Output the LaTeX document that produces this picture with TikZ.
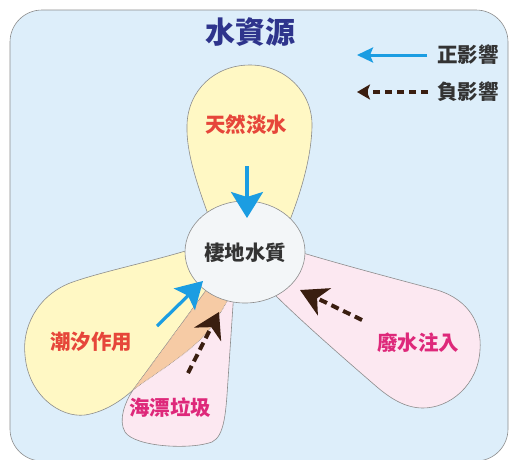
\documentclass[tikz,border=0pt]{standalone}
\usepackage{fontspec}
\newfontfamily\cjk{Noto Sans CJK TC}
\usetikzlibrary{arrows.meta,shapes.geometric}
\definecolor{bgblue}{RGB}{221,238,250}
\definecolor{petalyellow}{RGB}{255,248,196}
\definecolor{petalpink}{RGB}{252,232,241}
\definecolor{peach}{RGB}{246,203,165}
\definecolor{hubfill}{RGB}{243,246,248}
\definecolor{outline}{RGB}{140,140,140}
\definecolor{posblue}{RGB}{27,157,226}
\definecolor{negbrown}{RGB}{58,30,16}
\definecolor{titleblue}{RGB}{46,52,140}
\definecolor{labred}{RGB}{230,70,58}
\definecolor{labmag}{RGB}{222,40,122}
\definecolor{labgray}{RGB}{51,51,51}
\tikzset{
  petal/.style={draw=outline, line width=0.6pt},
  lab/.style={font=\cjk\bfseries\fontsize{20.5}{22}\selectfont, inner sep=0pt},
  posarrow/.style={draw=posblue, line width=3.2pt, -{Stealth[length=26pt,width=32pt,inset=5pt]}},
  negarrow/.style={draw=negbrown, line width=4pt, dash pattern=on 8pt off 5pt, -{Stealth[length=27pt,width=30pt,inset=8pt]}},
}
\def\toppetal{(212,225) .. controls (197,185) and (186,152) .. (187,125) .. controls (188,90) and (215,65) .. (250,65) .. controls (285,65) and (313,92) .. (312,127) .. controls (311,160) and (300,195) .. (288,225) -- cycle}
\def\leftpetal{(192,249) .. controls (150,262) and (100,272) .. (70,283) .. controls (35,297) and (22,330) .. (25,355) .. controls (28,395) and (60,418) .. (85,415) .. controls (105,412) and (122,400) .. (133,390) .. controls (160,370) and (195,350) .. (212,326) .. controls (220,314) and (225,305) .. (230,296) -- (245,252) -- cycle}
\def\bottompetal{(210,285) -- (133,390) .. controls (125,402) and (118,420) .. (125,432) .. controls (135,447) and (190,450) .. (212,442) .. controls (225,436) and (226,410) .. (228,380) -- (234,290) -- cycle}
\def\rightpetal{(292,250) -- (303,253) .. controls (350,267) and (400,280) .. (437,290) .. controls (470,300) and (482,325) .. (480,350) .. controls (478,385) and (450,408) .. (423,408) .. controls (405,408) and (390,398) .. (377,387) .. controls (340,355) and (300,320) .. (272,292) -- cycle}
\begin{document}
\begin{tikzpicture}[x=1pt,y=-1pt]
\useasboundingbox (0,0) rectangle (511,459);
\begin{scope}
  \clip (0,0) rectangle (511,459);
  \draw[fill=bgblue, draw=outline, line width=0.6pt, rounded corners=32pt] (10,10) rectangle (508,461);
\end{scope}
% petals
\path[petal, fill=petalyellow] \toppetal;
\path[petal, fill=petalyellow] \leftpetal;
\path[petal, fill=petalpink] \rightpetal;
\path[petal, fill=petalpink] \bottompetal;
\begin{scope}
  \clip \leftpetal;
  \fill[peach] \bottompetal;
  \draw[outline, line width=0.6pt, densely dotted] \bottompetal;
\end{scope}
\begin{scope}
  \clip \bottompetal;
  \draw[outline, line width=0.6pt, densely dotted] \leftpetal;
\end{scope}
% hub
\node (hab) [ellipse, draw=outline, line width=0.6pt, fill=hubfill, minimum width=120pt, minimum height=102pt, inner sep=0pt] at (245,252) {};
\node (habt) [lab, text=labgray] at (245,253) {棲地水質};
% labels
\node (title) [font=\cjk\bfseries\fontsize{30}{32}\selectfont, text=titleblue, inner sep=0pt] at (250,32) {水資源};
\node (fresh) [lab, text=labred] at (246,125) {天然淡水};
\node (tide) [lab, text=labred] at (91,342) {潮汐作用};
\node (litter) [lab, text=labmag] at (170,408) {海漂垃圾};
\node (waste) [lab, text=labmag] at (418,343) {廢水注入};
% arrows
\coordinate (a1s) at (247,166);
\coordinate (a1e) at (247,218);
\draw[posarrow] (a1s) -- (a1e);
\coordinate (a2s) at (157,326);
\coordinate (a2e) at (203,281);
\draw[posarrow, -{Stealth[length=26pt,width=30pt,inset=5pt]}] (a2s) -- (a2e);
\coordinate (a3s) at (188,373);
\coordinate (a3e) at (219,312);
\draw[negarrow, -{Stealth[length=25pt,width=30pt,inset=8pt]}] (a3s) -- (a3e);
\coordinate (a4s) at (362,320);
\coordinate (a4e) at (300,290);
\draw[negarrow] (a4s) -- (a4e);
% legend
\node (pos) [lab, text=labgray, anchor=west] at (437,55) {正影響};
\node (neg) [lab, text=labgray, anchor=west] at (437,92) {負影響};
\coordinate (l1s) at (427,55);
\coordinate (l1e) at (357,55);
\draw[draw=posblue, line width=3pt, -{Stealth[length=16pt,width=15pt,inset=3pt]}] (l1s) -- (l1e);
\coordinate (l2s) at (428,92);
\coordinate (l2e) at (357,92);
\draw[draw=negbrown, line width=3.5pt, dash pattern=on 7pt off 5pt, -{Stealth[length=13pt,width=15pt,inset=3pt]}] (l2s) -- (l2e);
\end{tikzpicture}
\end{document}
